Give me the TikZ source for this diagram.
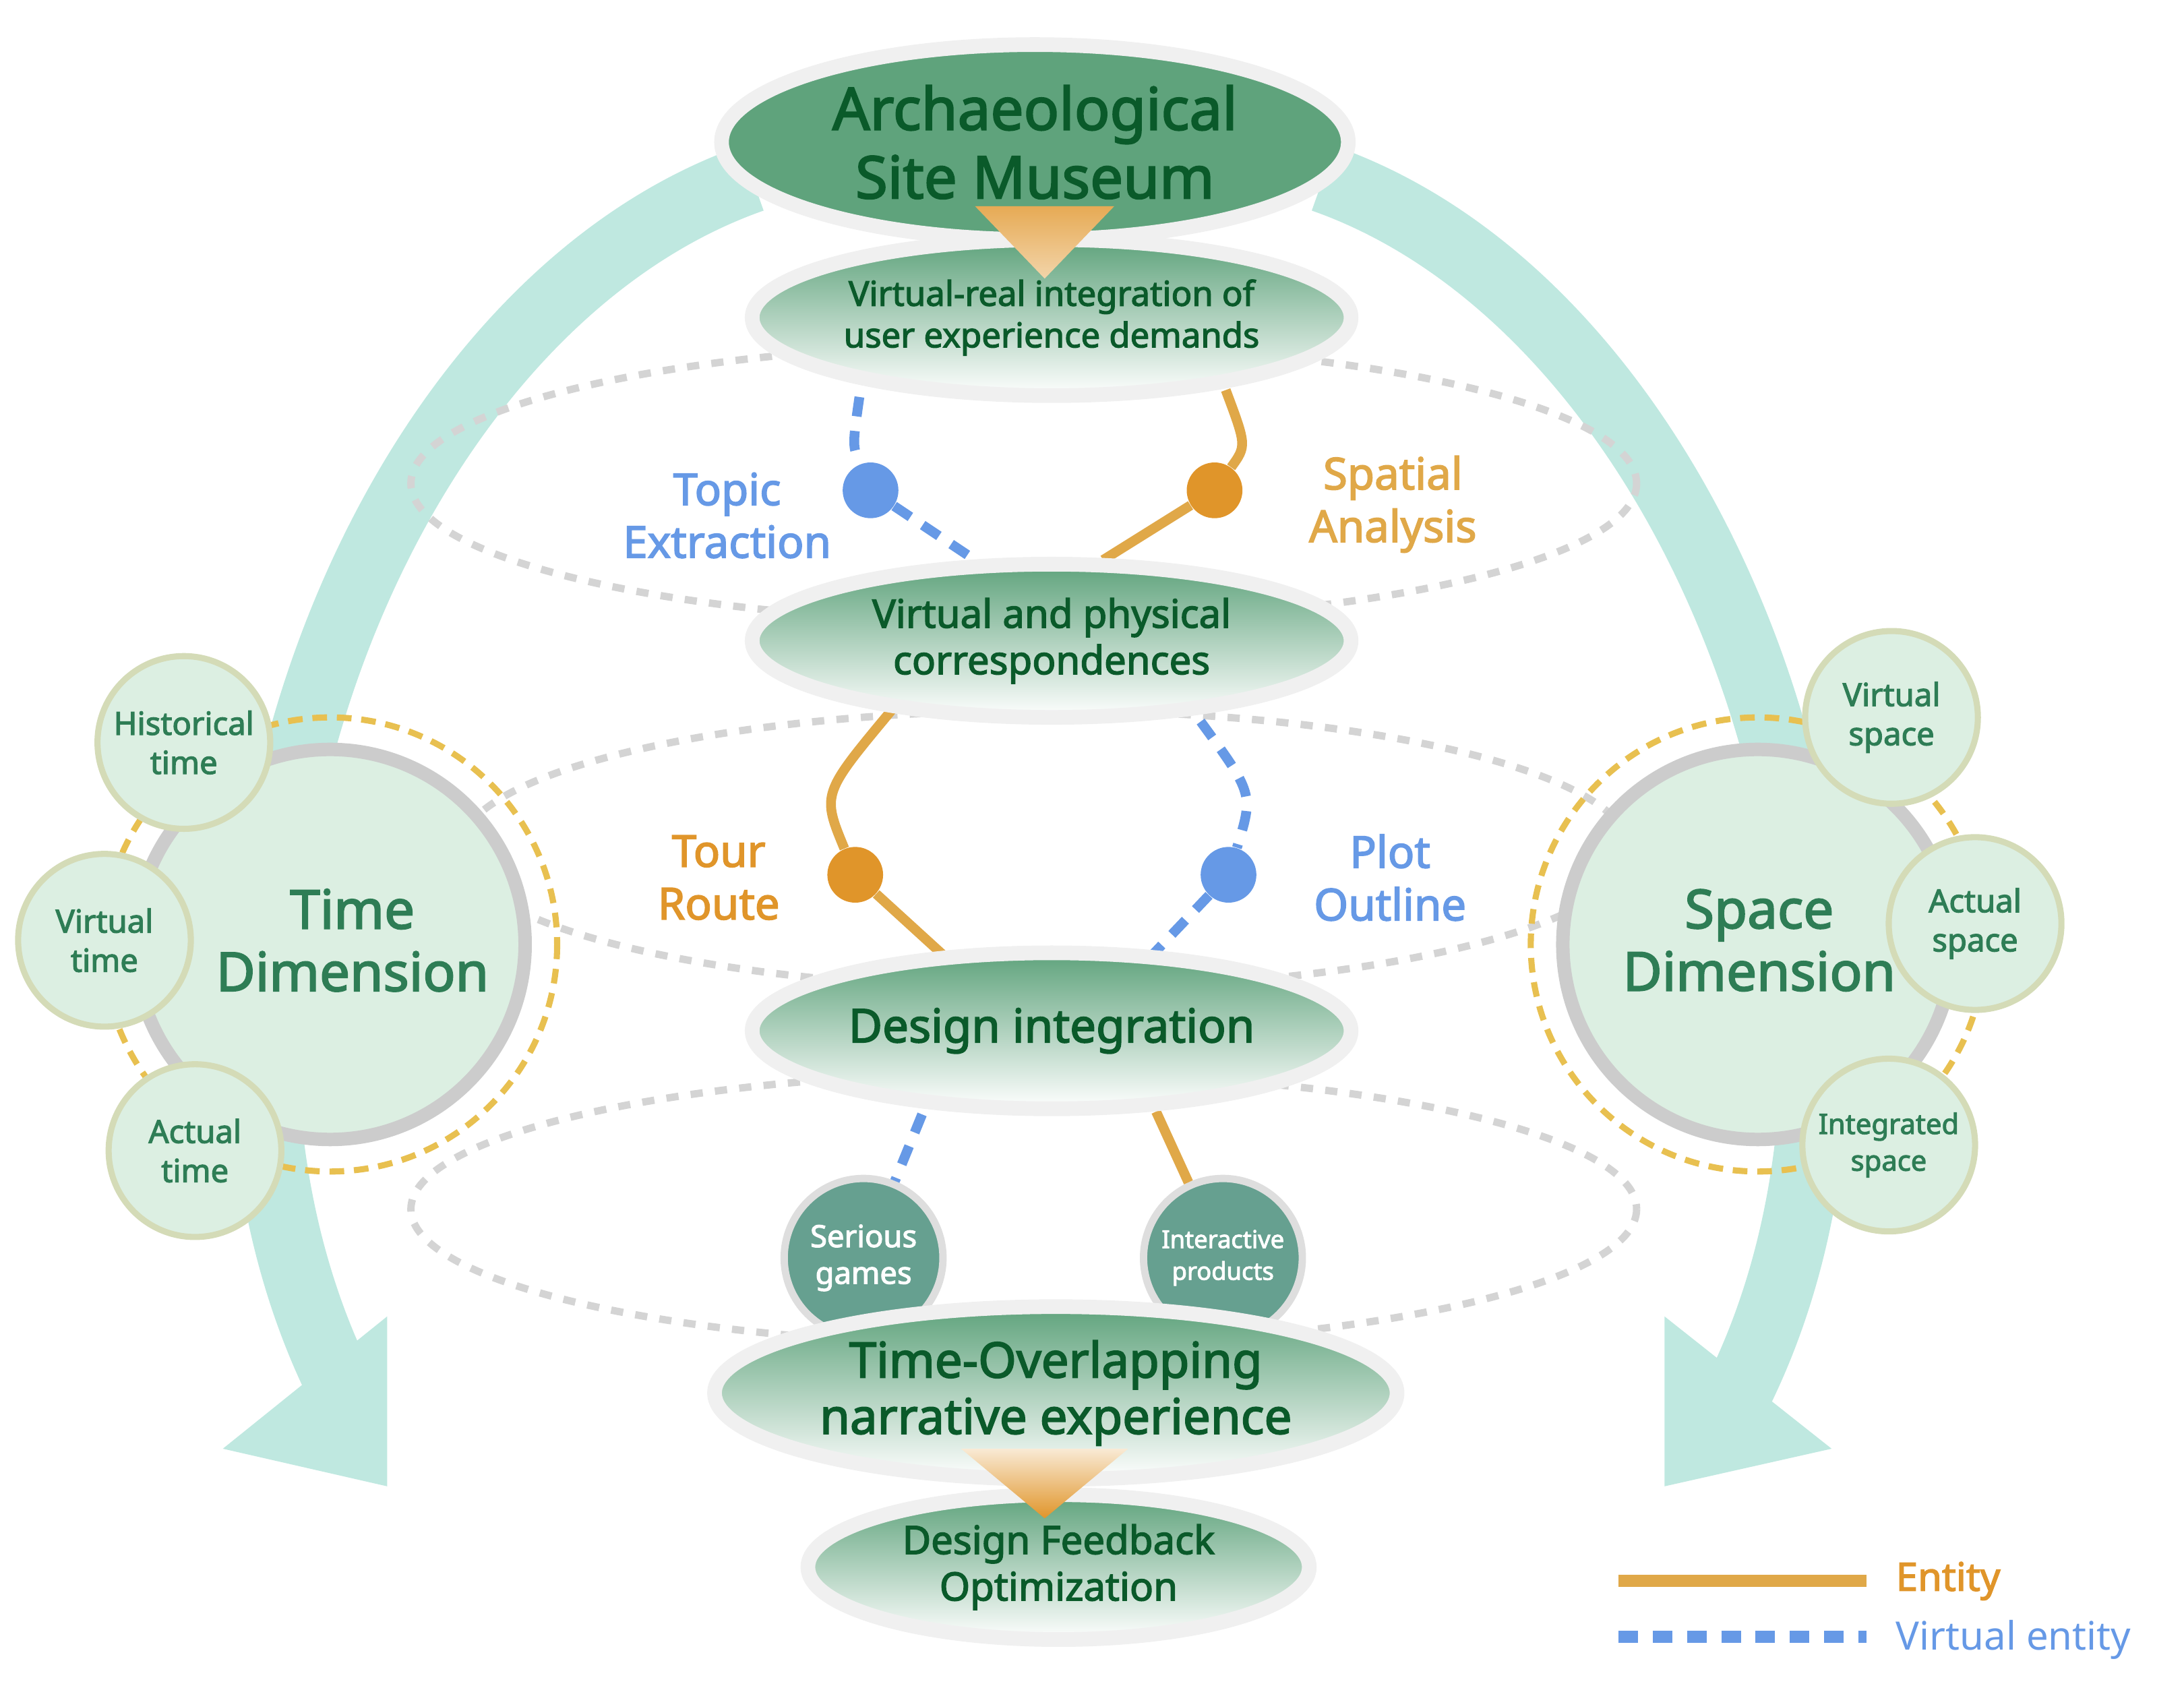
\documentclass[tikz,border=0pt]{standalone}
\usepackage{fontspec}
\setmainfont{Noto Sans}[AutoFakeBold=2.5]
\usetikzlibrary{shapes.geometric}
\definecolor{teal1}{HTML}{BFE8E0}
\definecolor{gdash}{HTML}{D4D4D4}
\definecolor{mgreen}{HTML}{5FA37C}
\definecolor{dgreen}{HTML}{0A5A2A}
\definecolor{tgreen}{HTML}{2E7D55}
\definecolor{lgreen}{HTML}{DCEFE2}
\definecolor{blu}{HTML}{6699E6}
\definecolor{ora}{HTML}{E0952A}
\definecolor{ora2}{HTML}{E0A848}
\definecolor{yel}{HTML}{E8C050}
\definecolor{dteal}{HTML}{66A090}
\begin{document}
\begin{tikzpicture}[x=0.02cm,y=-0.02cm,
 mainell/.style={ellipse,draw=black!6,line width=6pt,top color=mgreen,bottom color=white,text=dgreen,font=\bfseries,align=center,inner sep=0pt},
 gring/.style={draw=gdash,line width=3pt,dash pattern=on 5pt off 5pt},
 small/.style={circle,fill=lgreen,draw=lgreen!60!olive!60,line width=2.5pt,minimum size=124*0.02cm,text=tgreen,font=\bfseries\fontsize{13}{16}\selectfont,align=center,inner sep=0pt},
 big/.style={circle,fill=lgreen,draw=black!20,line width=5.5pt,minimum size=280*0.02cm,text=tgreen,font=\bfseries\fontsize{22}{25.5}\selectfont,align=center},
 prod/.style={circle,fill=dteal,draw=black!13,line width=3pt,minimum size=114*0.02cm,text=white,font=\bfseries,align=center,inner sep=0pt},
 ent/.style={draw=ora2,line width=4pt},
 vir/.style={draw=blu,line width=4pt,dash pattern=on 8pt off 6pt},
 dot/.style={circle,minimum size=40*0.02cm,inner sep=0pt},
 lab/.style={font=\bfseries\fontsize{18}{21.5}\selectfont,align=center}]
\useasboundingbox (0,0) rectangle (1568,1210);
% big arrows
\draw[teal1,line width=28pt] (540,128) .. controls (250,230) and (90,720) .. (255,1015);
\fill[teal1] (160,1040) -- (278,945) -- (278,1067) -- cycle;
\draw[teal1,line width=28pt] (950,128) .. controls (1240,230) and (1400,720) .. (1240,1015);
\fill[teal1] (1195,945) -- (1315,1040) -- (1195,1067) -- cycle;
% dashed rings
\draw[gring] (735,347) ellipse [x radius=440,y radius=100];
\draw[gring] (750,610) ellipse [x radius=420,y radius=100];
\draw[gring] (735,868) ellipse [x radius=440,y radius=98];
% dimensions
\draw[yel,line width=2.5pt,dash pattern=on 6pt off 4pt] (237,678) circle [radius=163];
\draw[yel,line width=2.5pt,dash pattern=on 6pt off 4pt] (1262,678) circle [radius=163];
\node[big] (td) at (237,678) {};
\node[text=tgreen,font=\bfseries\fontsize{22}{25.5}\selectfont,align=center] (tdt) at (253,675) {Time\\Dimension};
\node[big] (sd) at (1262,678) {};
\node[text=tgreen,font=\bfseries\fontsize{22}{25.5}\selectfont,align=center] (sdt) at (1263,675) {Space\\Dimension};
\node[small] (ht) at (132,533) {Historical\\time};
\node[small] (vt) at (75,675) {Virtual\\time};
\node[small] (at) at (140,826) {Actual\\time};
\node[small] (vs) at (1358,515) {Virtual\\space};
\node[small] (as) at (1418,663) {Actual\\space};
\node[small,font=\bfseries\fontsize{11.5}{15}\selectfont] (is) at (1356,822) {Integrated\\space};
% connectors
\node[dot,fill=blu] (d1) at (625,352) {};
\node[dot,fill=ora] (d2) at (872,352) {};
\node[dot,fill=ora] (d3) at (614,628) {};
\node[dot,fill=blu] (d4) at (882,628) {};
\coordinate (c1) at (617,285); \coordinate (c1b) at (700,402);
\coordinate (c2) at (880,280); \coordinate (c2b) at (792,402);
\coordinate (c3) at (640,510); \coordinate (c3b) at (682,690);
\coordinate (c4) at (862,518); \coordinate (c4b) at (825,688);
\coordinate (c5) at (662,800); \coordinate (c6) at (830,798);
\draw[vir] (c1) .. controls (612,320) .. (d1) -- (c1b);
\draw[ent] (c2) .. controls (895,320) .. (d2) -- (c2b);
\draw[ent] (c3) .. controls (590,570) .. (d3) -- (c3b);
\draw[vir] (c4) .. controls (900,570) .. (d4) -- (c4b);
\node[prod,font=\bfseries\fontsize{12.5}{15}\selectfont] (sg) at (620,903) {Serious\\games};
\node[prod,font=\bfseries\fontsize{10}{13}\selectfont] (ip) at (878,903) {Interactive\\products};
\draw[vir] (c5) -- (sg);
\draw[ent] (c6) -- (ip);
% labels
\node[lab,text=blu] (l1) at (522,370) {Topic\\Extraction};
\node[lab,text=ora2] (l2) at (1000,362) {Spatial\\Analysis};
\node[lab,text=ora] (l3) at (516,630) {Tour\\Route};
\node[lab,text=blu] (l4) at (998,630) {Plot\\Outline};
% main nodes
\node[ellipse,draw=black!6,line width=6pt,fill=mgreen,minimum width=450*0.02cm,minimum height=140*0.02cm,text=dgreen,font=\bfseries\fontsize{24}{28}\selectfont,align=center] (m1) at (743,102) {Archaeological\\Site Museum};
\node[mainell,minimum width=430*0.02cm,minimum height=112*0.02cm,font=\bfseries\fontsize{14}{17}\selectfont] (m2) at (755,228) {Virtual-real integration of\\user experience demands};
\shade[top color=ora!80,bottom color=ora!40] (700,148) -- (800,148) -- (750,200) -- cycle;
\node[mainell,minimum width=430*0.02cm,minimum height=110*0.02cm,font=\bfseries\fontsize{16}{19}\selectfont] (m3) at (755,460) {Virtual and physical\\correspondences};
\node[mainell,minimum width=430*0.02cm,minimum height=112*0.02cm,font=\bfseries\fontsize{19}{22}\selectfont] (m4) at (755,740) {Design integration};
\node[mainell,minimum width=490*0.02cm,minimum height=124*0.02cm,font=\bfseries\fontsize{20}{23}\selectfont] (m5) at (758,1000) {Time-Overlapping\\narrative experience};
\node[mainell,minimum width=360*0.02cm,minimum height=104*0.02cm,font=\bfseries\fontsize{16}{19}\selectfont] (m6) at (760,1125) {Design Feedback\\Optimization};
\shade[top color=ora!20,bottom color=ora] (690,1040) -- (810,1040) -- (750,1090) -- cycle;
% legend
\coordinate (e1) at (1162,1135); \coordinate (e2) at (1340,1135);
\coordinate (v1) at (1162,1175); \coordinate (v2) at (1340,1175);
\draw[ent,line width=5pt] (e1) -- (e2);
\draw[vir,line width=5pt] (v1) -- (v2);
\node[anchor=west,text=ora,font=\bfseries\fontsize{16}{19}\selectfont] (le) at (1355,1135) {Entity};
\node[anchor=west,text=blu,font=\fontsize{16}{19}\selectfont] (lv) at (1355,1177) {Virtual entity};
\end{tikzpicture}
\end{document}
